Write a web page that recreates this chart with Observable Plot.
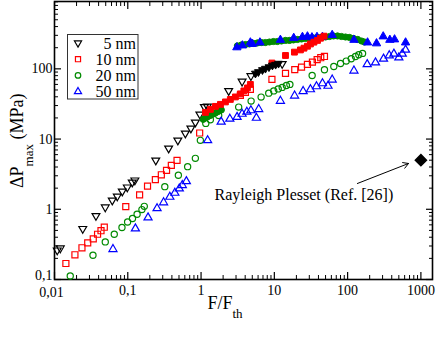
<!DOCTYPE html>
<html><head><meta charset="utf-8">
<script src="https://cdn.jsdelivr.net/npm/d3@7"></script>
<script src="https://cdn.jsdelivr.net/npm/@observablehq/plot@0.6"></script>
<style>body{margin:0;background:#fff} svg{display:block}</style>
</head><body><div id="chart"></div>
<script>
// ---- data ----
const fiveOpenX = [0.0109,0.0120,0.0243,0.0368,0.0493,0.0614,0.0719,0.0841,0.0985,0.115,0.125,0.241,0.361,0.482,0.610,0.726,0.836,0.963,1.11,1.22,2.38,3.63,4.79,12.8];
const fiveOpenY = [0.261,0.279,0.528,0.808,1.07,1.34,1.53,1.80,2.06,2.42,2.59,4.98,7.38,9.58,12.05,14.2,17.3,22.5,28.7,29.2,48.5,66.2,79.2,118];
const fiveFilledX = [5.52,6.06,6.88,7.56,8.44,9.42,10.4,11.4];
const fiveFilledY = [86.0,90.3,96.5,101,106,112,115,119];

const tenOpenX = [0.0143,0.0190,0.0237,0.0284,0.0338,0.0387,0.0431,0.0478,0.0939,0.145,0.186,0.238,0.287,0.338,0.393,0.470,0.957,3.44,4.03,4.71,9.27,14.2,19.0,23.5,28.3,33.1,38.4,43.0,48.3];
const tenOpenY = [0.169,0.225,0.283,0.332,0.380,0.441,0.495,0.555,1.09,1.60,2.14,2.65,3.10,3.59,4.23,4.98,12.2,41.9,46.2,50.9,70.7,86.0,97.4,106,116,125,135,144,150];
const tenFilledX = [1.15,1.34,1.57,1.84,2.15,2.51,2.94,3.44,3.84,4.29,4.71,9.27,14.2,18.8,22.7,25.4,28.3,31.1,34.7,38.8,42.6,47.6];
const tenFilledY = [24.0,26.5,29.2,31.2,33.8,36.7,39.8,44.0,48.5,53.5,60.0,121,155,173,186,197,210,226,240,254,273,292];

const twentyOpenX = [0.0164,0.0335,0.0493,0.0654,0.0833,0.0994,0.116,0.134,0.156,0.168,0.320,0.490,0.656,0.836,0.978,1.16,1.34,1.74,3.26,4.82,6.60,8.38,9.81,11.3,12.8,14.6,16.3,32.8,48.3,64.8,80.0,95.7,112,128,142,160];
const twentyOpenY = [0.112,0.222,0.343,0.441,0.549,0.660,0.738,0.849,0.99,1.10,2.10,3.05,4.05,5.31,9.58,16.7,18.8,21.7,28.5,34.7,39.6,45.1,48.5,51.8,54.4,58.0,60.0,80.5,97.1,108,119,129,139,150,159,166];
const twentyFilledX = [1.07,1.15,1.22,1.30,1.38,1.47,1.57,1.67,1.78,1.89,3.13,3.55,4.03,4.57,5.18,5.88,6.67,7.56,8.57,9.72,11.0,12.5,14.2,16.1,18.2,20.7,23.5,26.6,30.2,34.2,38.8,44.0,49.9,56.6,64.2,72.8,82.5,93.6,106,120,137,155,170];
const twentyFilledY = [19.1,20.0,20.7,21.4,22.1,22.8,23.6,24.4,25.2,26.0,212,219,222,226,230,234,237,237,241,245,245,249,254,254,258,262,266,271,271,275,280,280,284,289,294,294,289,284,280,271,262,249,241];

const fiftyOpenX = [0.0628,0.127,0.189,0.251,0.308,0.375,0.439,0.505,0.555,0.630,1.23,1.88,2.47,3.10,3.63,4.22,4.79,5.69,6.12,12.1,18.9,24.7,31.1,37.6,45.4,54.0,61.6,122,185,240,309,370,428,500,557,618];
const fiftyOpenY = [0.270,0.531,0.762,1.03,1.25,1.50,1.71,1.97,2.20,2.50,9.58,17.6,19.4,20.6,22.8,24.4,25.6,20.0,26.6,34.9,41.4,48.0,50.9,56.2,62.0,57.1,70.0,94.0,116,123,139,155,164,145,164,187];
const fiftyFilledX = [3.08,3.67,4.71,5.02,6.36,12.1,18.4,24.2,28.3,32.6,38.2,45.4,61.6,122,187,248,306,377,437,618];
const fiftyFilledY = [202,215,237,226,237,258,275,284,289,280,284,284,303,258,237,230,289,258,262,237];

const rayleighX = [1000];
const rayleighY = [5];
const annotationText = "Rayleigh Plesset (Ref. [26])";
const annotationPos = {x: 1.53, y: 1.60};
const arrowFrom = {x: 136, y: 2.33};
const arrowTo = {x: 678, y: 4.49};

const seriesNames = ["5 nm", "10 nm", "20 nm", "50 nm"];
const xTicks = [0.01, 0.1, 1, 10, 100, 1000];
const xTickLabels = ["0,01", "0,1", "1", "10", "100", "1000"];
const yTicks = [0.1, 1, 10, 100];
const yTickLabels = ["0,1", "1", "10", "100"];

// ---- helpers ----
const GREEN = "#008a00";
const FONT = "'Liberation Serif','Times New Roman',serif";
const triDown = {draw(ctx, size) {
  const y = -Math.sqrt(size / (Math.sqrt(3) * 3));
  ctx.moveTo(0, -y * 2);
  ctx.lineTo(-Math.sqrt(3) * y, y);
  ctx.lineTo(Math.sqrt(3) * y, y);
  ctx.closePath();
}};
const pts = (xs, ys) => xs.map((x, i) => ({x, y: ys[i]}));

const xMinor = [];
for (let e = -2; e <= 2; e++) for (let m = 2; m <= 9; m++) xMinor.push(m * 10 ** e);
const yMinor = [];
for (let e = -1; e <= 2; e++) for (let m = 2; m <= 9; m++) yMinor.push(+(m * 10 ** e).toPrecision(3));

const fmt = (ticks, labels) => d => labels[ticks.findIndex(t => Math.abs(t - d) / t < 1e-6)] ?? "";
const blank = () => "";

const open = (data, symbol, color, r) => Plot.dot(data, {x: "x", y: "y", symbol, r, stroke: color, fill: "none", strokeWidth: 1.2});
const filled = (data, symbol, color, r) => Plot.dot(data, {x: "x", y: "y", symbol, r, stroke: color, fill: color, strokeWidth: 1});

const plot = Plot.plot({
  width: 436, height: 337,
  marginLeft: 54, marginRight: 4, marginTop: 1, marginBottom: 58,
  style: {fontFamily: FONT, fontSize: "14px", background: "white", color: "black"},
  x: {type: "log", domain: [0.01, 1440]},
  y: {type: "log", domain: [0.1, 910]},
  marks: [
    // inward ticks on all four sides
    Plot.axisX(xTicks, {anchor: "bottom", tickSize: -7, tickFormat: blank, label: null, strokeWidth: 1.2}),
    Plot.axisX(xMinor, {anchor: "bottom", tickSize: -4, tickFormat: blank, label: null}),
    Plot.axisX(xTicks, {anchor: "top", tickSize: -7, tickFormat: blank, label: null, strokeWidth: 1.2}),
    Plot.axisX(xMinor, {anchor: "top", tickSize: -4, tickFormat: blank, label: null}),
    Plot.axisY(yTicks, {anchor: "left", tickSize: -7, tickFormat: blank, label: null, strokeWidth: 1.2}),
    Plot.axisY(yMinor, {anchor: "left", tickSize: -4, tickFormat: blank, label: null}),
    Plot.axisY(yTicks, {anchor: "right", tickSize: -7, tickFormat: blank, label: null, strokeWidth: 1.2}),
    Plot.axisY(yMinor, {anchor: "right", tickSize: -4, tickFormat: blank, label: null}),
    // tick labels
    Plot.axisX(xTicks.slice(0, 1), {anchor: "bottom", tickSize: 0, tickPadding: 8, dx: -3, tickFormat: fmt(xTicks, xTickLabels), label: null, fontSize: 14}),
    Plot.axisX(xTicks.slice(1), {anchor: "bottom", tickSize: 0, tickPadding: 6, tickFormat: fmt(xTicks, xTickLabels), label: null, fontSize: 14}),
    Plot.axisY(yTicks.slice(0, 1), {anchor: "left", tickSize: 0, tickPadding: 2, dy: -4, tickFormat: fmt(yTicks, yTickLabels), label: null, fontSize: 14}),
    Plot.axisY(yTicks.slice(1), {anchor: "left", tickSize: 0, tickPadding: 2, tickFormat: fmt(yTicks, yTickLabels), label: null, fontSize: 14}),
    Plot.frame({stroke: "black", strokeWidth: 1.6}),
    // open series
    open(pts(fiveOpenX, fiveOpenY), triDown, "black", 2.9),
    open(pts(tenOpenX, tenOpenY), "square", "red", 3.4),
    open(pts(twentyOpenX, twentyOpenY), "circle", GREEN, 3.1),
    open(pts(fiftyOpenX, fiftyOpenY), "triangle", "blue", 3.0),
    // filled series
    filled(pts(twentyFilledX, twentyFilledY), "circle", GREEN, 3.1),
    filled(pts(fiftyFilledX, fiftyFilledY), "triangle", "blue", 3.1),
    filled(pts(tenFilledX, tenFilledY), "square", "red", 3.3),
    filled(pts(fiveFilledX, fiveFilledY), triDown, "black", 2.9),
    // Rayleigh-Plesset point & annotation
    Plot.dot(pts(rayleighX, rayleighY), {x: "x", y: "y", symbol: "diamond2", r: 5, fill: "black", stroke: "black"}),
    Plot.arrow([{x1: arrowFrom.x, y1: arrowFrom.y, x2: arrowTo.x, y2: arrowTo.y}], {x1: "x1", y1: "y1", x2: "x2", y2: "y2", stroke: "black", strokeWidth: 1, headLength: 9, bend: 0}),
    Plot.text([annotationPos], {x: "x", y: "y", text: () => annotationText, textAnchor: "start", fontSize: 16, fill: "black"})
  ]
});
document.getElementById("chart").appendChild(plot);

// ---- titles and legend ----
const svg = d3.select(plot);
const yt = svg.append("text").attr("transform", "translate(23,188) rotate(-90)")
  .attr("text-anchor", "start").attr("font-family", FONT).attr("font-size", 18).attr("fill", "black");
yt.append("tspan").text("ΔP");
yt.append("tspan").attr("dy", 10).attr("font-size", 13).text("max");
yt.append("tspan").attr("dy", -10).text(" (MPa)");

const xt = svg.append("text").attr("x", 225).attr("y", 309)
  .attr("font-family", FONT).attr("font-size", 18).attr("fill", "black");
xt.append("tspan").text("F/F");
xt.append("tspan").attr("dy", 9).attr("font-size", 13).text("th");

const lg = svg.append("g");
lg.append("rect").attr("x", 67.5).attr("y", 34.5).attr("width", 70.5).attr("height", 64.5)
  .attr("fill", "white").attr("stroke", "#333").attr("stroke-width", 1);
const legendSyms = [
  {sym: triDown, color: "black", size: 22},
  {sym: d3.symbolSquare, color: "red", size: 26},
  {sym: d3.symbolCircle, color: GREEN, size: 24},
  {sym: d3.symbolTriangle, color: "blue", size: 22}
];
seriesNames.forEach((name, i) => {
  const cy = 43 + i * 16.2;
  lg.append("path").attr("transform", `translate(78,${cy})`)
    .attr("d", d3.symbol().type(legendSyms[i].sym).size(legendSyms[i].size)())
    .attr("fill", "none").attr("stroke", legendSyms[i].color).attr("stroke-width", 1.2);
  lg.append("text").attr("x", 136).attr("y", cy + 5.5).attr("text-anchor", "end")
    .attr("font-family", FONT).attr("font-size", 16).attr("fill", "black").text(name);
});
</script>
</body></html>
